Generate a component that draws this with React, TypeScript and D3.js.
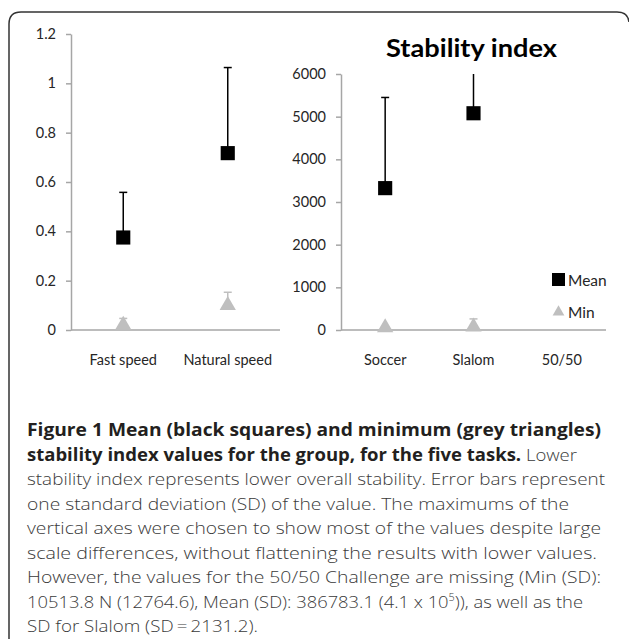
import React, { useEffect, useRef } from 'react';
import * as d3 from 'd3';

// left panel (walking tasks)
const leftCats = ['Fast speed', 'Natural speed'];
const leftMean = [0.375, 0.717];
const leftMeanSD = [0.183, 0.347];
const leftMin = [0.02, 0.1];
const leftMinSD = [0.027, 0.053];
const leftTicks = [0, 0.2, 0.4, 0.6, 0.8, 1, 1.2];

// right panel (ball tasks)
const rightCats = ['Soccer', 'Slalom', '50/50'];
const rightMean = [3325, 5080, null];
const rightMeanSD = [2125, 2131.2, null];
const rightMin = [55, 75, null];
const rightMinSD = [null, 185, null];
const rightTicks = [0, 1000, 2000, 3000, 4000, 5000, 6000];

const legendItems = ['Mean', 'Min'];

// caption, one entry per printed line
const caption = [
  [{ t: 'Figure 1 Mean (black squares) and minimum (grey triangles)', b: true }],
  [{ t: 'stability index values for the group, for the five tasks.', b: true }, { t: ' Lower' }],
  [{ t: 'stability index represents lower overall stability. Error bars represent' }],
  [{ t: 'one standard deviation (SD) of the value. The maximums of the' }],
  [{ t: 'vertical axes were chosen to show most of the values despite large' }],
  [{ t: 'scale differences, without flattening the results with lower values.' }],
  [{ t: 'However, the values for the 50/50 Challenge are missing (Min (SD):' }],
  [{ t: '10513.8 N (12764.6), Mean (SD): 386783.1 (4.1 x 10' }, { t: '5', sup: true }, { t: ')), as well as the' }],
  [{ t: 'SD for Slalom (SD\u2009=\u20092131.2).' }],
];
const captionWidths = [574, 550, 578, 542, 574, 570, 574, 556, 231];

const AXIS = '#a6a6a6';
const GREY = '#bfbfbf';
const FONT = 'Lato, "Open Sans", sans-serif';

export default function App() {
  const svgRef = useRef<SVGSVGElement>(null);

  useEffect(() => {
    const svg = d3.select(svgRef.current);
    svg.selectAll('*').remove();

    // frame
    svg.append('path')
      .attr('d', 'M9,700 L9,24 Q9,12 21,12 L617,12 Q628,12 629,22')
      .attr('fill', 'none')
      .attr('stroke', '#333')
      .attr('stroke-width', 1.5);

    const drawPanel = (x, y, cats, mean, meanSD, min, minSD, ticks, fmt) => {
      const g = svg.append('g');
      const x0 = x.range()[0];
      const x1 = x.range()[1];
      const ax = g.append('g')
        .attr('transform', `translate(${x0},0)`)
        .call(d3.axisLeft(y).tickValues(ticks).tickFormat(fmt).tickSize(5).tickSizeOuter(0).tickPadding(10));
      ax.select('.domain').attr('stroke', AXIS).attr('stroke-width', 1.5);
      ax.selectAll('.tick line').attr('stroke', AXIS).attr('stroke-width', 1.5);
      ax.selectAll('.tick text')
        .attr('font-family', FONT).attr('font-size', 14.5).attr('fill', '#262626');

      g.append('line')
        .attr('x1', x0).attr('x2', x1)
        .attr('y1', y(0)).attr('y2', y(0))
        .attr('stroke', AXIS).attr('stroke-width', 1.5);

      g.selectAll('.cat')
        .data(cats)
        .join('text')
        .attr('x', d => x(d) + x.bandwidth() / 2)
        .attr('y', y(0) + 35)
        .attr('text-anchor', 'middle')
        .attr('font-family', FONT).attr('font-size', 14.5).attr('fill', '#262626')
        .text(d => d);

      const top = y.domain()[1];
      const bars = (vals, sds, color) => {
        cats.forEach((c, i) => {
          if (vals[i] == null || sds[i] == null) return;
          const cx = x(c) + x.bandwidth() / 2;
          const hi = Math.min(vals[i] + sds[i], top);
          g.append('line')
            .attr('x1', cx).attr('x2', cx)
            .attr('y1', y(vals[i])).attr('y2', y(hi))
            .attr('stroke', color).attr('stroke-width', 1.5);
          if (vals[i] + sds[i] <= top) {
            g.append('line')
              .attr('x1', cx - 4).attr('x2', cx + 4)
              .attr('y1', y(hi)).attr('y2', y(hi))
              .attr('stroke', color).attr('stroke-width', 1.5);
          }
        });
      };
      bars(mean, meanSD, '#000');
      bars(min, minSD, GREY);

      cats.forEach((c, i) => {
        const cx = x(c) + x.bandwidth() / 2;
        if (min[i] != null) {
          g.append('path')
            .attr('d', d3.symbol(d3.symbolTriangle, 115)())
            .attr('transform', `translate(${cx},${y(min[i])})`)
            .attr('fill', GREY);
        }
        if (mean[i] != null) {
          g.append('path')
            .attr('d', d3.symbol(d3.symbolSquare, 200)())
            .attr('transform', `translate(${cx},${y(mean[i])})`)
            .attr('fill', '#000');
        }
      });
    };

    const leftX = d3.scaleBand().domain(leftCats).range([71, 280]);
    const leftY = d3.scaleLinear().domain([0, 1.2]).range([330, 34]);
    drawPanel(leftX, leftY, leftCats, leftMean, leftMeanSD, leftMin, leftMinSD, leftTicks,
      d => String(+(+d).toFixed(1)));

    const rightX = d3.scaleBand().domain(rightCats).range([341, 606]);
    const rightY = d3.scaleLinear().domain([0, 6000]).range([330, 74]);
    drawPanel(rightX, rightY, rightCats, rightMean, rightMeanSD, rightMin, rightMinSD, rightTicks,
      d => String(d));

    // title
    svg.append('text')
      .attr('x', 386).attr('y', 57)
      .attr('font-family', FONT).attr('font-weight', 'bold').attr('font-size', 25)
      .attr('textLength', 171).attr('lengthAdjust', 'spacingAndGlyphs')
      .attr('fill', '#000')
      .text('Stability index');

    // legend
    const lg = svg.append('g').attr('transform', 'translate(552,273)');
    lg.append('rect').attr('width', 13).attr('height', 13).attr('fill', '#000');
    lg.append('path')
      .attr('d', d3.symbol(d3.symbolTriangle, 60)())
      .attr('transform', 'translate(6.5,39)')
      .attr('fill', GREY);
    lg.selectAll('.lt')
      .data(legendItems)
      .join('text')
      .attr('x', 16)
      .attr('y', (d, i) => 13 + i * 32)
      .attr('font-family', FONT).attr('font-size', 15.5).attr('fill', '#262626')
      .text(d => d);

    // caption
    const cap = svg.append('g');
    caption.forEach((segs, i) => {
      const t = cap.append('text')
        .attr('x', 27)
        .attr('y', 436 + i * 24.5)
        .attr('font-family', '"Open Sans", sans-serif')
        .attr('font-size', 17)
        .attr('textLength', captionWidths[i])
        .attr('lengthAdjust', 'spacingAndGlyphs');
      segs.forEach(s => {
        const sp = t.append('tspan').text(s.t)
          .attr('font-weight', s.b ? 'bold' : 300)
          .attr('fill', s.b ? '#231f20' : '#3a3a3a');
        if (s.sup) sp.attr('font-size', 10).attr('dy', -7);
        else if (segs.some(q => q.sup) && segs.indexOf(s) > 0) sp.attr('dy', 7);
      });
    });
  }, []);

  return (
    <svg ref={svgRef} width={629} height={639}
      style={{ position: 'absolute', left: 0, top: 0, background: '#fff' }} />
  );
}
